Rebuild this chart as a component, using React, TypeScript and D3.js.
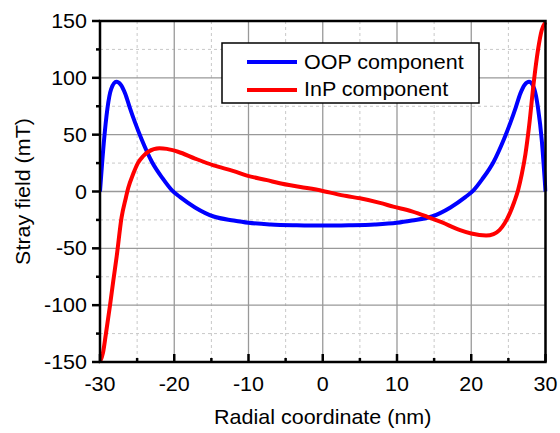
import React from "react";
import * as d3 from "d3";

// Radial profile of the stray field components
const oopX = [-30, -29.5, -29, -28.5, -27.8, -27.2, -26.6, -26, -25.3, -24.4, -23, -21.5, -20.3, -19.2, -17.2, -14.7, -12, -10, -7, -3.5, 0, 3.5, 7, 10, 12, 14.7, 17.2, 19.2, 20.3, 21.5, 23, 24.4, 25.3, 26, 26.6, 27.2, 27.8, 28.5, 29, 29.5, 30];
const oopY = [0, 42, 73, 90, 96.5, 94, 86, 74, 61, 46, 26, 11, 1, -5, -14, -22, -25.5, -27.5, -29, -29.7, -30, -29.7, -29, -27.5, -25.5, -22, -14, -5, 1, 11, 26, 46, 61, 74, 86, 94, 96.5, 90, 73, 45, 0];

const inpX = [-30, -29.6, -29.2, -28.65, -28.2, -27.75, -27.1, -26.5, -26.2, -25.5, -24.9, -24.2, -23.5, -22, -21, -19.5, -17.2, -14.7, -12, -10.2, -7.5, -5.8, -3, 0, 3.2, 5, 7.7, 9.5, 12, 14, 16, 18.5, 20, 22, 23, 23.8, 24.5, 25.2, 25.8, 26.3, 26.8, 27.3, 27.8, 28.4, 29, 29.5, 30];
const inpY = [-150, -142, -125, -100, -78, -57, -23, -5, 3, 16, 25, 31, 35, 38, 37.5, 35, 29, 23, 18, 14, 10, 7.2, 4, 0.5, -4, -6, -10, -13.3, -17.5, -22, -27, -34, -37, -38.8, -37.5, -34, -28, -19, -9, 1, 15, 33, 58, 95, 125, 142, 149];

const xTicks = [-30, -20, -10, 0, 10, 20, 30];
const xMinor = [-25, -15, -5, 5, 15, 25];
const yTicks = [-150, -100, -50, 0, 50, 100, 150];
const yMinor = [-125, -75, -25, 25, 75, 125];

const seriesNames = ["OOP component", "InP component"];
const seriesColors = ["#0000ff", "#ff0000"];

const W = 560;
const H = 433;
const left = 100;
const right = 545.5;
const top = 21;
const bottom = 362;
const font = "'Liberation Sans', Arial, sans-serif";
const stretch = 1.075;

type LabelProps = {
  x: number;
  y: number;
  anchor?: "start" | "middle" | "end";
  rotate?: number;
  children: React.ReactNode;
};

// Text drawn slightly wider than the default glyph widths
function Label({ x, y, anchor = "start", rotate = 0, children }: LabelProps) {
  return (
    <text
      transform={`translate(${x},${y}) rotate(${rotate}) scale(${stretch},1)`}
      fontSize={20}
      textAnchor={anchor}
      fill="#000"
    >
      {children}
    </text>
  );
}

export default function App() {
  const x = d3.scaleLinear().domain([-30, 30]).range([left, right]);
  const y = d3.scaleLinear().domain([-150, 150]).range([bottom, top]);

  const line = d3
    .line<[number, number]>()
    .x((d) => x(d[0]))
    .y((d) => y(d[1]))
    .curve(d3.curveMonotoneX);

  const oop = oopX.map((v, i) => [v, oopY[i]] as [number, number]);
  const inp = inpX.map((v, i) => [v, inpY[i]] as [number, number]);

  return (
    <svg
      width={W}
      height={H}
      style={{ position: "absolute", left: 0, top: 0, background: "#fff" }}
      fontFamily={font}
    >
      <defs>
        <clipPath id="plot">
          <rect x={left} y={top - 3} width={right - left + 2} height={bottom - top + 5} />
        </clipPath>
      </defs>

      {/* minor grid */}
      {xMinor.map((t) => (
        <line key={"xm" + t} x1={x(t)} x2={x(t)} y1={top} y2={bottom} stroke="#c8c8c8" strokeWidth={1} strokeDasharray="3,3" />
      ))}
      {yMinor.map((t) => (
        <line key={"ym" + t} x1={left} x2={right} y1={y(t)} y2={y(t)} stroke="#c8c8c8" strokeWidth={1} strokeDasharray="3,3" />
      ))}
      {/* major grid */}
      {xTicks.map((t) => (
        <line key={"xg" + t} x1={x(t)} x2={x(t)} y1={top} y2={bottom} stroke="#999" strokeWidth={1.3} />
      ))}
      {yTicks.map((t) => (
        <line key={"yg" + t} x1={left} x2={right} y1={y(t)} y2={y(t)} stroke="#999" strokeWidth={1.3} />
      ))}

      {/* curves */}
      <g clipPath="url(#plot)">
        <path d={line(oop) ?? ""} fill="none" stroke={seriesColors[0]} strokeWidth={4} strokeLinejoin="round" />
        <path d={line(inp) ?? ""} fill="none" stroke={seriesColors[1]} strokeWidth={4} strokeLinejoin="round" />
      </g>

      {/* frame */}
      <rect x={left} y={top} width={right - left} height={bottom - top} fill="none" stroke="#000" strokeWidth={2.5} />

      {/* bottom ticks (inward) */}
      {xTicks.map((t) => (
        <line key={"xt" + t} x1={x(t)} x2={x(t)} y1={bottom} y2={bottom - 8} stroke="#000" strokeWidth={2.5} />
      ))}
      {xMinor.map((t) => (
        <line key={"xmt" + t} x1={x(t)} x2={x(t)} y1={bottom} y2={bottom - 4} stroke="#000" strokeWidth={2.5} />
      ))}
      {/* left ticks (outward) */}
      {yTicks.map((t) => (
        <line key={"yt" + t} x1={left} x2={left - 8} y1={y(t)} y2={y(t)} stroke="#000" strokeWidth={2.5} />
      ))}
      {yMinor.map((t) => (
        <line key={"ymt" + t} x1={left} x2={left - 4} y1={y(t)} y2={y(t)} stroke="#000" strokeWidth={2.5} />
      ))}

      {/* tick labels */}
      {xTicks.map((t) => (
        <Label key={"xl" + t} x={x(t)} y={391} anchor="middle">
          {t}
        </Label>
      ))}
      {yTicks.map((t) => (
        <Label key={"yl" + t} x={87} y={y(t) + 7} anchor="end">
          {t}
        </Label>
      ))}

      {/* axis titles */}
      <Label x={(left + right) / 2} y={424} anchor="middle">
        Radial coordinate (nm)
      </Label>
      <Label x={30} y={(top + bottom) / 2} anchor="middle" rotate={-90}>
        Stray field (mT)
      </Label>

      {/* legend */}
      <rect x={222} y={43} width={257} height={60} fill="#fff" stroke="#000" strokeWidth={1.5} />
      {seriesNames.map((name, i) => (
        <g key={name}>
          <line x1={247} x2={297} y1={62 + i * 28} y2={62 + i * 28} stroke={seriesColors[i]} strokeWidth={4} />
          <Label x={304} y={69 + i * 27}>
            {name}
          </Label>
        </g>
      ))}
    </svg>
  );
}
